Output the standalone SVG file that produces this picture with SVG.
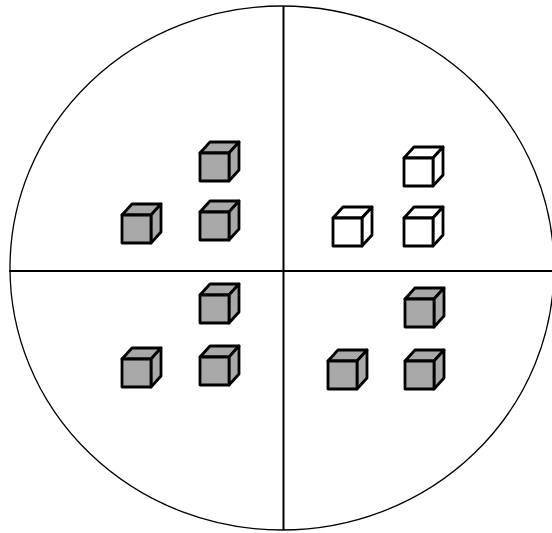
<svg xmlns="http://www.w3.org/2000/svg" xmlns:xlink="http://www.w3.org/1999/xlink" width="552" height="533" viewBox="0 0 552 533">
<style>
.frame{fill:none;stroke:#000;stroke-width:1.3}
.axis{stroke:#000;stroke-width:2}
.cube{stroke:#000;stroke-width:2.8;stroke-linejoin:round}
.grey{fill:#a9a9a9}
.white{fill:#fff}
</style>
<defs>
<g id="cube">
<polygon points="0,0 10,-11 39,-11 29,0"/>
<polygon points="29,0 39,-11 39,17 29,28"/>
<rect x="0" y="0" width="29" height="28"/>
</g>
</defs>
<rect width="552" height="533" fill="#fff"/>
<g id="frame">
<ellipse class="frame" cx="282" cy="268" rx="272" ry="262"/>
</g>
<g id="connectors">
<line class="axis" x1="283.5" y1="6" x2="283.5" y2="530"/>
<line class="axis" x1="9" y1="271" x2="552" y2="271"/>
</g>
<g id="cube-q1-a"><use href="#cube" class="cube grey" transform="translate(200,153)"/></g>
<g id="cube-q1-b"><use href="#cube" class="cube grey" transform="translate(122,215)"/></g>
<g id="cube-q1-c"><use href="#cube" class="cube grey" transform="translate(200,212)"/></g>
<g id="cube-q2-a"><use href="#cube" class="cube white" transform="translate(404,158)"/></g>
<g id="cube-q2-b"><use href="#cube" class="cube white" transform="translate(333,218)"/></g>
<g id="cube-q2-c"><use href="#cube" class="cube white" transform="translate(404,218)"/></g>
<g id="cube-q3-a"><use href="#cube" class="cube grey" transform="translate(200,295)"/></g>
<g id="cube-q3-b"><use href="#cube" class="cube grey" transform="translate(122,359)"/></g>
<g id="cube-q3-c"><use href="#cube" class="cube grey" transform="translate(200,357)"/></g>
<g id="cube-q4-a"><use href="#cube" class="cube grey" transform="translate(405,299)"/></g>
<g id="cube-q4-b"><use href="#cube" class="cube grey" transform="translate(328,361)"/></g>
<g id="cube-q4-c"><use href="#cube" class="cube grey" transform="translate(405,361)"/></g>
</svg>
